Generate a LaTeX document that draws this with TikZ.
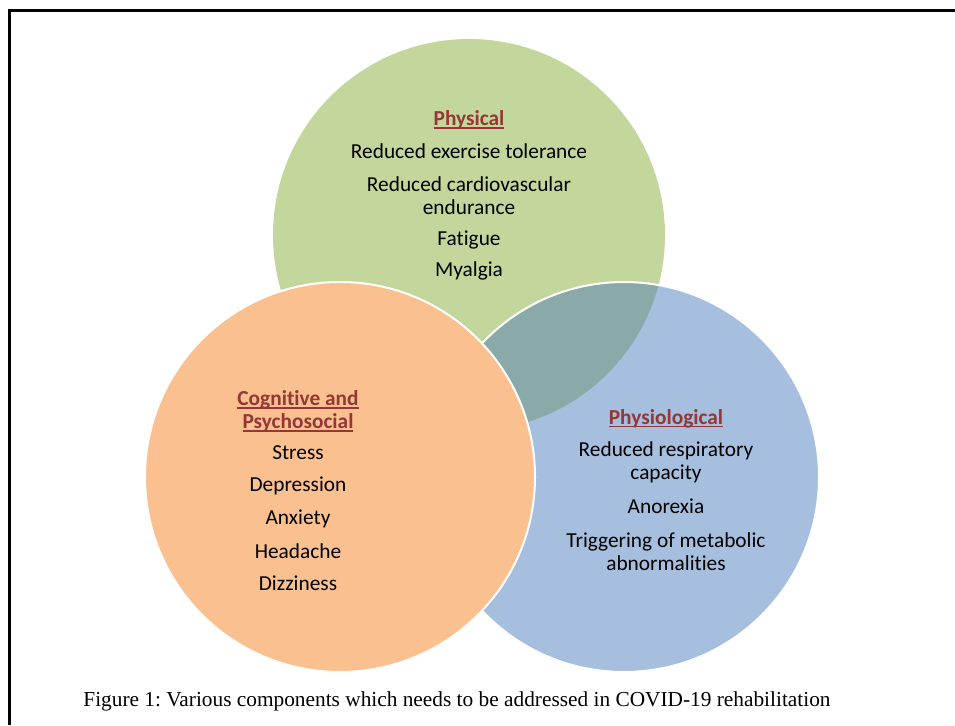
\documentclass[tikz,border=0pt]{standalone}
\usepackage{fontspec}
\setmainfont{Carlito}[Ligatures=NoCommon]
\newfontfamily\capfont{Liberation Serif}
\definecolor{cgreen}{HTML}{C3D69B}
\definecolor{cblue}{HTML}{A7BFDE}
\definecolor{corange}{HTML}{FAC090}
\definecolor{cteal}{HTML}{8AAAA9}
\definecolor{ctitle}{HTML}{953735}
\tikzset{
  item/.style={font=\fontsize{16}{17.25}\selectfont, align=center, inner sep=0pt, text=black},
  ttl/.style={font=\fontsize{16}{17.25}\selectfont\bfseries, align=center, inner sep=0pt, text=ctitle},
}
\newcommand{\ul}[1]{\setbox0\hbox{#1}\leavevmode\rlap{\rule[-2.4pt]{\wd0}{1.1pt}}\box0}
\begin{document}
\begin{tikzpicture}[x=0.75pt,y=-0.75pt]
\useasboundingbox (0,0) rectangle (955,725);
% circles
\fill[cgreen] (469,235) circle[radius=147pt];
\fill[cblue] (624,477) circle[radius=146.25pt];
\begin{scope}
  \clip (469,235) circle[radius=147pt];
  \fill[cteal] (624,477) circle[radius=146.25pt];
\end{scope}
\draw[white,line width=1.5pt] (624,477) circle[radius=146.25pt];
\fill[corange] (340,477) circle[radius=146.25pt];
\draw[white,line width=1.5pt] (340,477) circle[radius=146.25pt];
% frame
\draw[line width=2.25pt] (9.5,725) -- (9.5,10) -- (955,10);
% Physical
\node[ttl] (phys) at (469,119.5) {\ul{Physical}};
\node[item] (p1) at (469,151) {Reduced exercise tolerance};
\node[item] (p2) at (469,195.5) {Reduced cardiovascular\\endurance};
\node[item] (p3) at (469,240) {Fatigue};
\node[item] (p4) at (469,271) {Myalgia};
% Cognitive
\node[ttl] (cog) at (298,411) {\ul{Cognitive and}\\\ul{Psychosocial}};
\node[item] (c1) at (298,453) {Stress};
\node[item] (c2) at (298,486) {Depression};
\node[item] (c3) at (298,519) {Anxiety};
\node[item] (c4) at (298,551) {Headache};
\node[item] (c5) at (298,583) {Dizziness};
% Physiological
\node[ttl] (phy) at (666,418.5) {\ul{Physiological}};
\node[item] (f1) at (666,462.5) {Reduced respiratory\\capacity};
\node[item] (f2) at (666,506) {Anorexia};
\node[item] (f3) at (666,551.5) {Triggering of metabolic\\abnormalities};
% caption
\node[font=\capfont\fontsize{16}{18}\selectfont, inner sep=0pt] (cap) at (457,701) {\frenchspacing Figure 1: Various components which needs to be addressed in COVID-19 rehabilitation};
\end{tikzpicture}
\end{document}
